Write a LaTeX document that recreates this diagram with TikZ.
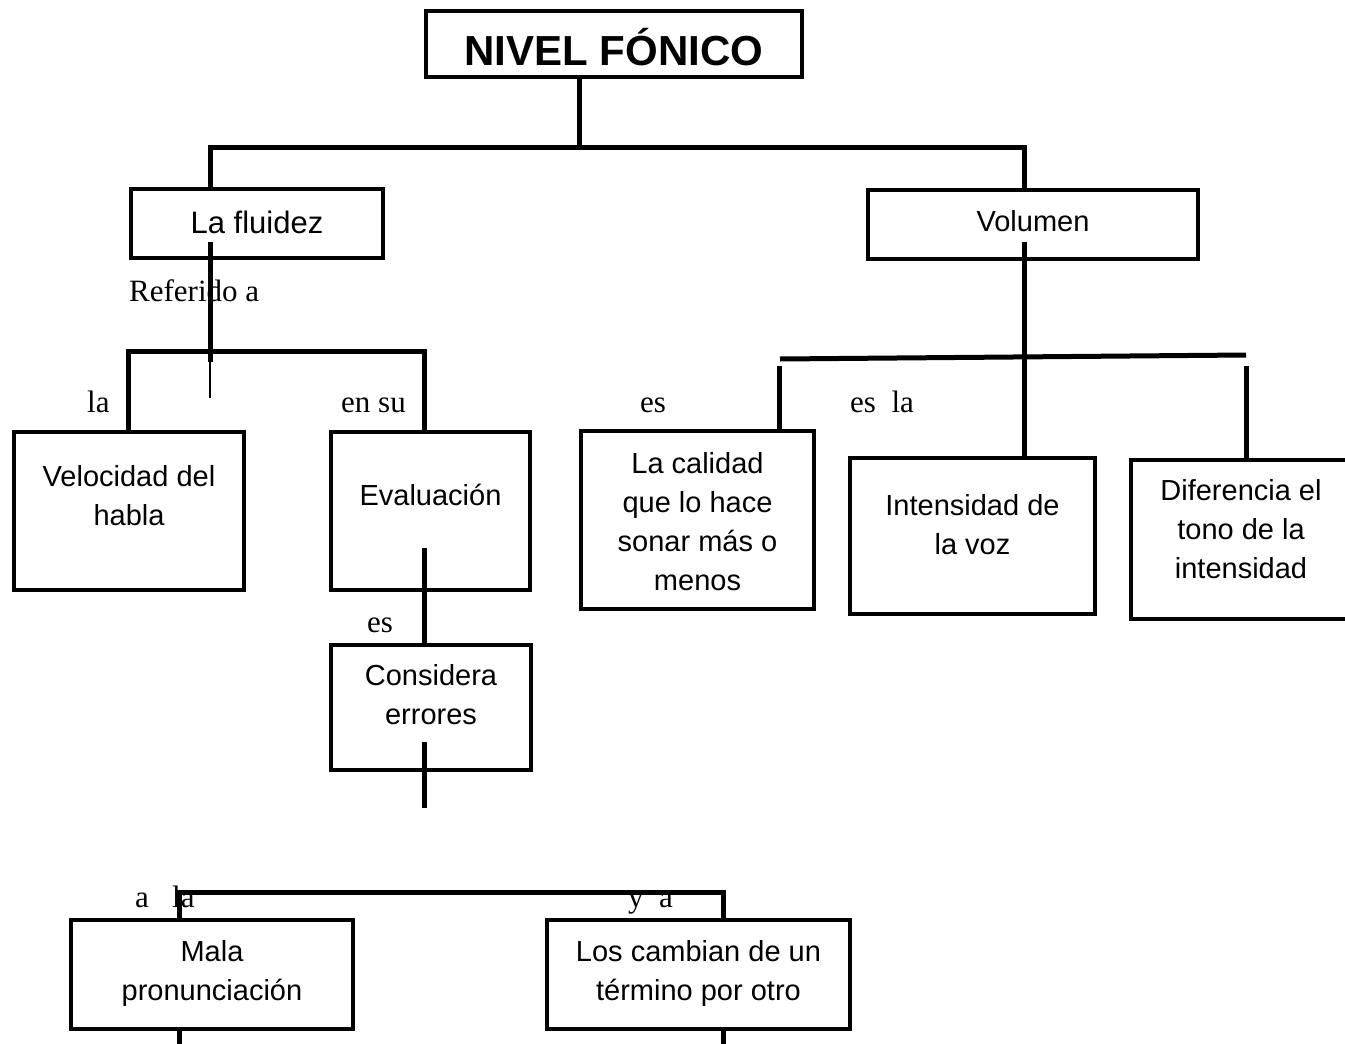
\documentclass[tikz,border=0pt]{standalone}
\usepackage{fontspec}
\setmainfont{Liberation Serif}
\newfontfamily\arial{Liberation Sans}
\newcommand{\rows}[1]{\begin{tabular}[t]{@{}c@{}}#1\end{tabular}}

\begin{document}
\begin{tikzpicture}[x=1pt,y=-1pt,
    box/.style={draw,line width=4pt,inner sep=0pt,anchor=north west,font=\arial\fontsize{29}{39}\selectfont},
    lbl/.style={inner sep=0pt,anchor=base west,font=\fontsize{31}{37}\selectfont},
    link/.style={line width=5pt}]
    \useasboundingbox[fill=white] (0,0) rectangle (1345,1044);

    % boxes
    \node[box,minimum width=376pt,text height=54pt,text depth=12pt,font=\arial\bfseries\fontsize{42}{50}\selectfont]
        (nivel) at (424,9) {NIVEL FÓNICO};
    \node[box,minimum width=252pt,text height=44pt,text depth=25pt,font=\arial\fontsize{31}{39}\selectfont]
        (fluidez) at (129,187) {La fluidez};
    \node[box,minimum width=330pt,text height=41pt,text depth=28pt] (volumen) at (866,188) {Volumen};
    \node[box,minimum width=230pt,text height=54pt,text depth=104pt] (velocidad) at (12,430) {\rows{Velocidad del\\habla}};
    \node[box,minimum width=199pt,text height=73pt,text depth=85pt] (evaluacion) at (329,430) {Evaluación};
    \node[box,minimum width=200pt,text height=40pt,text depth=85pt] (considera) at (329,643) {\rows{Considera\\errores}};
    \node[box,minimum width=233pt,text height=42pt,text depth=136pt] (calidad) at (579,429) {\rows{La calidad\\que lo hace\\sonar más o\\menos}};
    \node[box,minimum width=245pt,text height=57pt,text depth=99pt] (intensidad) at (848,456) {\rows{Intensidad de\\la voz}};
    \node[box,minimum width=220pt,text height=40pt,text depth=119pt] (diferencia) at (1129,458) {\rows{Diferencia el\\tono de la\\intensidad}};
    \node[box,minimum width=282pt,text height=41pt,text depth=68pt] (mala) at (69,918) {\rows{Mala\\pronunciación}};
    \node[box,minimum width=303pt,text height=41pt,text depth=68pt] (cambian) at (545,918) {\rows{Los cambian de un\\término por otro}};

    % labels
    \node[lbl] (referido) at (129,301) {Referido a};
    \node[lbl] (la) at (87,412) {la};
    \node[lbl] (ensu) at (341,412) {en su};
    \node[lbl] (es1) at (367,632) {es};
    \node[lbl] (es2) at (640,412) {es};
    \node[lbl] (esla) at (850,412) {es~~la};
    \node[lbl] (ala) at (135,907) {a~~~la};
    \node[lbl] (ya) at (628,907) {y~~a};

    % top
    \coordinate (t0) at (579,147);
    \coordinate (t1) at (210,147);
    \coordinate (t2) at (1024,147);
    \draw[link] (nivel.south -| t0) -- (t0);
    \draw[link] (fluidez.north -| t1) -- (t1) -- (t2) -- (volumen.north -| t2);

    % la fluidez
    \coordinate (fs) at (210,242);
    \coordinate (fe) at (210,362);
    \coordinate (ft) at (210,398);
    \coordinate (f1) at (128,351);
    \coordinate (f2) at (424,351);
    \draw[link] (fs) -- (fe);
    \draw[line width=1.2pt] (fe) -- (ft);
    \draw[link] (velocidad.north -| f1) -- (f1) -- (f2) -- (evaluacion.north -| f2);
    \coordinate (es) at (424,548);
    \draw[link] (es) -- (considera.north -| es);
    \coordinate (cs) at (424,742);
    \coordinate (ct) at (424,808);
    \draw[link] (cs) -- (ct);

    % volumen
    \coordinate (vs) at (1024,242);
    \coordinate (v1) at (780,359);
    \coordinate (v2) at (1246,355);
    \coordinate (v3) at (779,366);
    \coordinate (v4) at (1246,366);
    \draw[link] (vs) -- (intensidad.north -| vs);
    \draw[link] (v1) -- (v2);
    \draw[link] (v3) -- (calidad.north -| v3);
    \draw[link] (v4) -- (diferencia.north -| v4);

    % bottom
    \coordinate (m1) at (179,892);
    \coordinate (m2) at (723,892);
    \coordinate (m3) at (179,1050);
    \coordinate (m4) at (723,1050);
    \draw[link] (mala.north -| m1) -- (m1) -- (m2) -- (cambian.north -| m2);
    \draw[link] (mala.south -| m1) -- (m3);
    \draw[link] (cambian.south -| m2) -- (m4);
\end{tikzpicture}
\end{document}
